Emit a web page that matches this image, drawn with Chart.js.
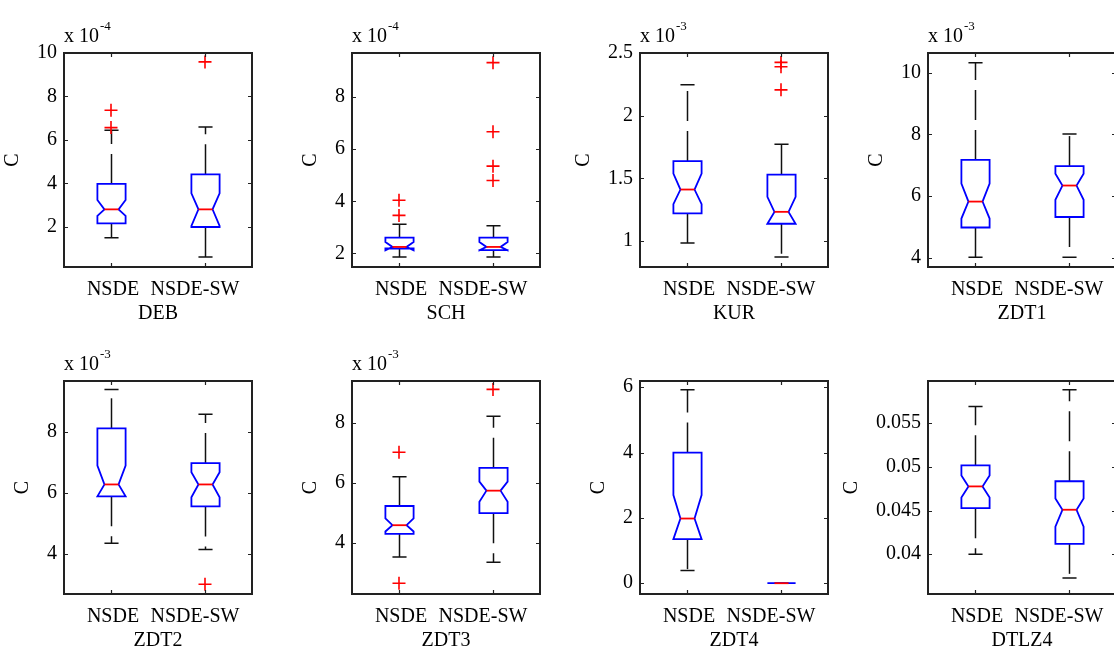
<!DOCTYPE html>
<html>
<head>
<meta charset="utf-8">
<title>Boxplots C</title>
<script src="https://cdn.jsdelivr.net/npm/chart.js@4.4.0/dist/chart.umd.min.js"></script>
<style>
  body { margin: 0; background: #fff; }
  #wrap { position: relative; width: 1114px; height: 654px; overflow: hidden; background: #fff; }
  #wrap canvas { position: absolute; }
</style>
</head>
<body>
<div id="wrap"></div>
<script>
// ---- data (values in the units shown on each axis) ----
const panels = ['DEB', 'SCH', 'KUR', 'ZDT1', 'ZDT2', 'ZDT3', 'ZDT4', 'DTLZ4'];
const groups = ['NSDE', 'NSDE-SW'];
const exponents = [-4, -4, -3, -3, -3, -3, 0, 0];
const yMin = [0.16, 1.48, 0.793, 3.7, 2.69, 2.31, -0.33, 0.03545];
const yMax = [10, 9.69, 2.5, 10.635, 9.67, 9.4, 6.19, 0.05982];
const yTicks = [
  [2, 4, 6, 8, 10], [2, 4, 6, 8], [1, 1.5, 2, 2.5], [4, 6, 8, 10],
  [4, 6, 8], [4, 6, 8], [0, 2, 4, 6], [0.04, 0.045, 0.05, 0.055]
];
const whiskerLow  = [[1.51, 0.62], [1.86, 1.86], [0.984, 0.873], [4.02, 4.02], [4.35, 4.15], [3.54, 3.37], [0.39, 0], [0.0400, 0.03729]];
const q1          = [[2.17, 2.0],  [2.19, 2.13], [1.22, 1.138],  [4.98, 5.32], [5.89, 5.56], [4.31, 5.0],  [1.35, 0], [0.04527, 0.04119]];
const notchLow    = [[2.51, 2.05], [2.12, 2.12], [1.294, 1.138], [5.27, 5.88], [5.89, 5.86], [4.39, 5.38], [1.35, 0], [0.04649, 0.04315]];
const medians     = [[2.81, 2.81], [2.25, 2.25], [1.411, 1.233], [5.82, 6.34], [6.28, 6.28], [4.6, 5.75],  [1.98, 0], [0.04776, 0.04509]];
const notchHigh   = [[3.24, 3.55], [2.44, 2.44], [1.538, 1.352], [6.4, 6.72],  [6.9, 6.68],  [4.83, 6.05], [2.7, 0],  [0.049, 0.04638]];
const q3          = [[3.98, 4.42], [2.61, 2.61], [1.638, 1.53],  [7.17, 6.97], [8.12, 6.98], [5.24, 6.51], [4.0, 0],  [0.05017, 0.04835]];
const whiskerHigh = [[6.45, 6.6],  [3.12, 3.06], [2.246, 1.773], [10.32, 8.01], [9.39, 8.58], [6.21, 8.23], [5.92, 0], [0.05689, 0.05882]];
const outliers = [
  [[7.37, 6.57], [9.59]],
  [[4.04, 3.46], [9.32, 6.67, 5.35, 4.8]],
  [[], [2.425, 2.39, 2.206]],
  [[], []],
  [[], [3.01]],
  [[7.03, 2.67], [9.12]],
  [[], []],
  [[], []]
];

// ---- layout ----
const FONT = '20px "Liberation Serif", "Times New Roman", serif';
const SUP_FONT = '13px "Liberation Serif", "Times New Roman", serif';
const colLeft = [64, 352, 640, 928];
const rowTop = [53, 381];
const rowPlotH = [214, 213];
const padL = 100, padR = 36, padB = 60, plotW = 188;
const boxWidth = 0.3;
const labelShift = [2, -10];

function drawBoxes(chart) {
  const p = chart.options.plugins.notchBox.panel;
  const xs = chart.scales.x, ys = chart.scales.y, ctx = chart.ctx;
  const Y = v => ys.getPixelForValue(v);
  const half = xs.getPixelForValue(1 + boxWidth / 2) - xs.getPixelForValue(1);
  ctx.save();
  groups.forEach((g, i) => {
    const cx = Math.round(xs.getPixelForValue(i + 1)) + 0.5;
    // whiskers, dashed from the box outwards
    ctx.strokeStyle = '#111';
    ctx.lineWidth = 1.5;
    ctx.setLineDash([30, 10]);
    ctx.beginPath(); ctx.moveTo(cx, Y(q3[p][i])); ctx.lineTo(cx, Y(whiskerHigh[p][i])); ctx.stroke();
    ctx.beginPath(); ctx.moveTo(cx, Y(q1[p][i])); ctx.lineTo(cx, Y(whiskerLow[p][i])); ctx.stroke();
    ctx.setLineDash([]);
    ctx.beginPath();
    ctx.moveTo(cx - half / 2, Y(whiskerHigh[p][i])); ctx.lineTo(cx + half / 2, Y(whiskerHigh[p][i]));
    ctx.moveTo(cx - half / 2, Y(whiskerLow[p][i])); ctx.lineTo(cx + half / 2, Y(whiskerLow[p][i]));
    ctx.stroke();
    // notched box
    ctx.strokeStyle = '#0000ff';
    ctx.lineWidth = 1.8;
    ctx.beginPath();
    ctx.moveTo(cx - half, Y(q1[p][i]));
    ctx.lineTo(cx - half, Y(notchLow[p][i]));
    ctx.lineTo(cx - half / 2, Y(medians[p][i]));
    ctx.lineTo(cx - half, Y(notchHigh[p][i]));
    ctx.lineTo(cx - half, Y(q3[p][i]));
    ctx.lineTo(cx + half, Y(q3[p][i]));
    ctx.lineTo(cx + half, Y(notchHigh[p][i]));
    ctx.lineTo(cx + half / 2, Y(medians[p][i]));
    ctx.lineTo(cx + half, Y(notchLow[p][i]));
    ctx.lineTo(cx + half, Y(q1[p][i]));
    ctx.closePath();
    ctx.stroke();
    // median
    ctx.strokeStyle = '#ff0000';
    ctx.beginPath();
    ctx.moveTo(cx - half / 2, Y(medians[p][i])); ctx.lineTo(cx + half / 2, Y(medians[p][i]));
    ctx.stroke();
  });
  ctx.restore();
}

function drawAxes(chart) {
  const p = chart.options.plugins.notchBox.panel;
  const xs = chart.scales.x, ys = chart.scales.y, ctx = chart.ctx;
  const a = chart.chartArea;
  ctx.save();
  ctx.strokeStyle = '#222';
  ctx.lineWidth = 2;
  ctx.strokeRect(a.left, a.top, a.right - a.left, a.bottom - a.top);
  ctx.lineWidth = 1.2;
  ctx.beginPath();
  ys.ticks.forEach(t => {
    const y = Math.round(ys.getPixelForValue(t.value)) + 0.5;
    ctx.moveTo(a.left, y); ctx.lineTo(a.left + 4, y);
    ctx.moveTo(a.right, y); ctx.lineTo(a.right - 4, y);
  });
  groups.forEach((g, i) => {
    const x = Math.round(xs.getPixelForValue(i + 1)) + 0.5;
    ctx.moveTo(x, a.bottom); ctx.lineTo(x, a.bottom - 4);
    ctx.moveTo(x, a.top); ctx.lineTo(x, a.top + 4);
  });
  ctx.stroke();

  ctx.fillStyle = '#000';
  ctx.font = FONT;
  ctx.textAlign = 'right';
  ctx.textBaseline = 'middle';
  let maxW = 0;
  ys.ticks.forEach(t => {
    const s = String(t.value);
    maxW = Math.max(maxW, ctx.measureText(s).width);
    ctx.fillText(s, a.left - 7, ys.getPixelForValue(t.value));
  });
  ctx.textAlign = 'center';
  groups.forEach((g, i) => {
    ctx.fillText(g, xs.getPixelForValue(i + 1) + labelShift[i], a.bottom + 23);
  });
  ctx.fillText(panels[p], (a.left + a.right) / 2, a.bottom + 47);

  // y label
  ctx.save();
  ctx.translate(a.left - 7 - maxW - 24, (a.top + a.bottom) / 2);
  ctx.rotate(-Math.PI / 2);
  ctx.fillText('C', 0, 0);
  ctx.restore();

  // exponent
  if (exponents[p] !== 0) {
    ctx.textAlign = 'left';
    ctx.textBaseline = 'alphabetic';
    ctx.fillText('x 10', a.left, a.top - 11);
    const w = ctx.measureText('x 10').width;
    ctx.font = SUP_FONT;
    ctx.fillText(String(exponents[p]), a.left + w + 1, a.top - 23);
  }
  ctx.restore();
}

const notchBox = {
  id: 'notchBox',
  beforeDatasetsDraw(chart) { drawBoxes(chart); },
  afterDraw(chart) { drawAxes(chart); }
};

const wrap = document.getElementById('wrap');
panels.forEach((name, p) => {
  const row = Math.floor(p / 4), col = p % 4;
  const cv = document.createElement('canvas');
  const w = padL + plotW + padR, h = rowTop[0] + rowPlotH[row] + padB;
  cv.width = w; cv.height = h;
  cv.style.width = w + 'px'; cv.style.height = h + 'px';
  cv.style.left = (colLeft[col] - padL) + 'px';
  cv.style.top = (rowTop[row] - rowTop[0]) + 'px';
  wrap.appendChild(cv);

  const pts = [];
  outliers[p].forEach((vals, i) => vals.forEach(v => pts.push({ x: i + 1, y: v })));

  new Chart(cv, {
    type: 'scatter',
    data: {
      datasets: [{
        data: pts,
        pointStyle: 'cross',
        radius: 6.5,
        borderColor: '#ff0000',
        backgroundColor: '#ff0000',
        borderWidth: 1.6
      }]
    },
    options: {
      responsive: false,
      animation: false,
      events: [],
      layout: { padding: { left: padL, right: padR, top: rowTop[0], bottom: padB } },
      scales: {
        x: { type: 'linear', min: 0.5, max: 2.5, display: false },
        y: {
          type: 'linear', min: yMin[p], max: yMax[p], display: false,
          afterBuildTicks: s => { s.ticks = yTicks[p].map(v => ({ value: v })); }
        }
      },
      plugins: {
        legend: { display: false },
        tooltip: { enabled: false },
        notchBox: { panel: p }
      }
    },
    plugins: [notchBox]
  });
});
</script>
</body>
</html>
